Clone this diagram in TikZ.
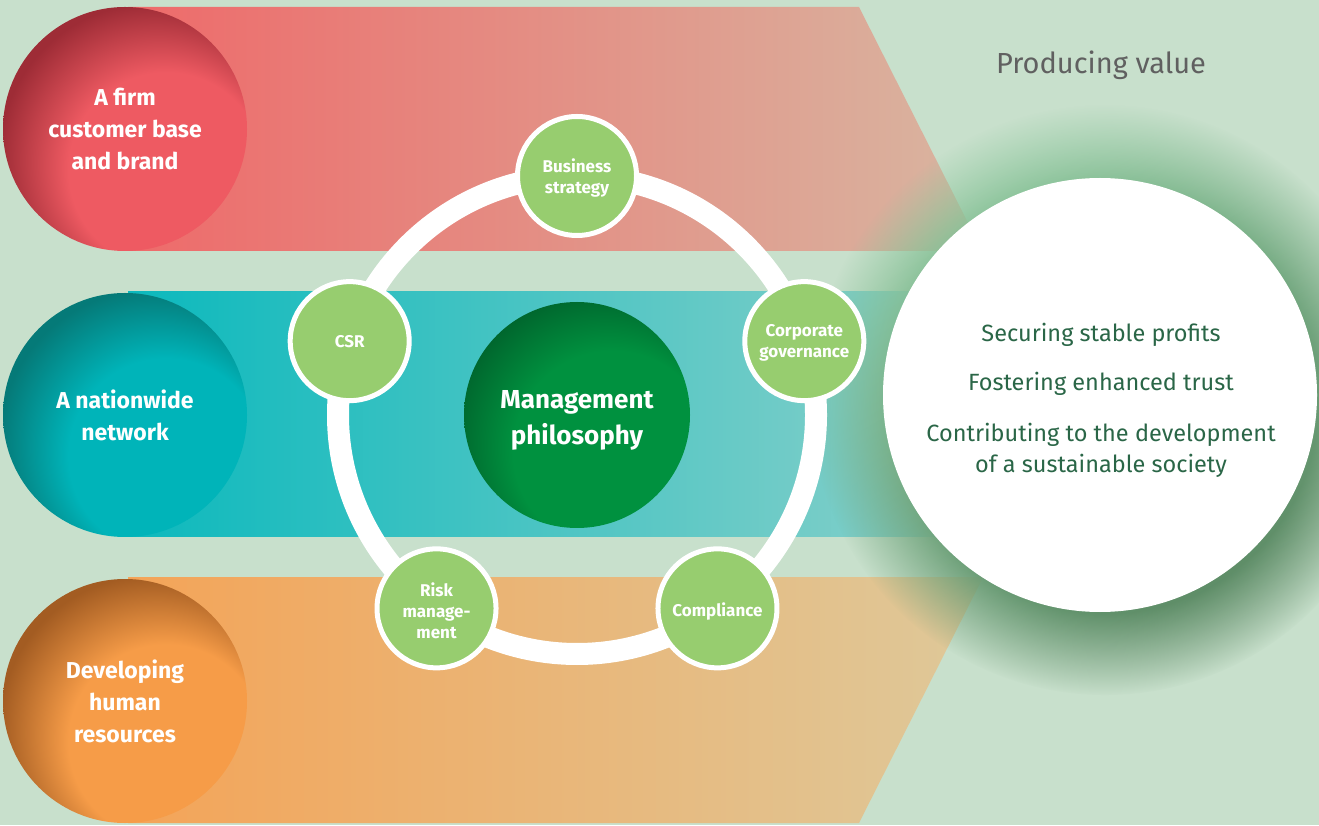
\documentclass[tikz,border=0pt]{standalone}
\usepackage{fontspec}
\setmainfont{Fira Sans}
\usetikzlibrary{fadings,calc}

\definecolor{bg}{HTML}{C8E0CC}
\definecolor{redL}{HTML}{EE5A62}
\definecolor{redD}{HTML}{9E2C36}
\definecolor{tealL}{HTML}{00B4B9}
\definecolor{tealD}{HTML}{057A78}
\definecolor{orL}{HTML}{F69C48}
\definecolor{orD}{HTML}{A35C22}
\definecolor{mgL}{HTML}{00913F}
\definecolor{mgD}{HTML}{00632C}
\definecolor{redBa}{HTML}{EE6A6A}
\definecolor{redBb}{HTML}{D6BDA6}
\definecolor{tealBa}{HTML}{0CB9BD}
\definecolor{tealBb}{HTML}{9AD3CB}
\definecolor{orBa}{HTML}{F4A458}
\definecolor{orBb}{HTML}{DCCCA0}
\definecolor{nodeG}{HTML}{97CD6F}
\definecolor{glowT}{HTML}{8ECA9F}
\definecolor{glowB}{HTML}{57845F}
\definecolor{txtG}{HTML}{2A6647}
\definecolor{txtGray}{HTML}{606060}

\pgfdeclareradialshading{redball}{\pgfpoint{14bp}{-14bp}}{color(0bp)=(redL); color(20bp)=(redL); color(31bp)=(redD); color(50bp)=(redD)}
\pgfdeclareradialshading{tealball}{\pgfpoint{14bp}{-14bp}}{color(0bp)=(tealL); color(20bp)=(tealL); color(31bp)=(tealD); color(50bp)=(tealD)}
\pgfdeclareradialshading{orball}{\pgfpoint{14bp}{-14bp}}{color(0bp)=(orL); color(20bp)=(orL); color(31bp)=(orD); color(50bp)=(orD)}
\pgfdeclareradialshading{mgball}{\pgfpoint{14bp}{-14bp}}{color(0bp)=(mgL); color(22bp)=(mgL); color(33bp)=(mgD); color(50bp)=(mgD)}
\pgfdeclareradialshading{glowmask}{\pgfpointorigin}{color(0bp)=(white); color(18bp)=(white); color(25bp)=(black); color(50bp)=(black)}
\pgfdeclarefading{glowfade}{\pgfuseshading{glowmask}}

\tikzset{
  ball/.style={circle, minimum size=244pt, inner sep=0pt, shade, text=white, align=center,
    font=\bfseries\fontsize{23}{32}\selectfont},
  pill/.style={circle, minimum size=119pt, inner sep=0pt, fill=nodeG, draw=white, line width=5pt,
    text=white, align=center, font=\bfseries\fontsize{17}{21}\selectfont},
  pilltext/.style={text=white, align=center, font=\bfseries\fontsize{17}{21}\selectfont},
  valtext/.style={text=txtG, align=center, font=\fontsize{23.5}{31}\selectfont},
}

\begin{document}
\begin{tikzpicture}[x=1pt,y=1pt]
\fill[bg] (0,0) rectangle (1319,825);
\useasboundingbox (0,0) rectangle (1319,825);

% bands in a chevron
\begin{scope}
  \clip (128,818) -- (859,818) -- (1065,410) -- (859,2) -- (128,2) -- cycle;
  \shade[left color=redBa, right color=redBb] (128,574) rectangle (1065,818);
  \shade[left color=tealBa, right color=tealBb] (128,288) rectangle (1065,533);
  \shade[left color=orBa, right color=orBb] (128,2) rectangle (1065,247);
\end{scope}

% glow and value circle
\shade[top color=glowT, bottom color=glowB, shading angle=30, path fading=glowfade] (1105,425) circle (295pt);
\node[circle, fill=white, minimum size=434pt, inner sep=0pt] (val) at (1100,430) {};

% left balls
\node[ball, shading=redball] (firm) at (125,696) {A firm\\customer base\\and brand};
\node[ball, shading=tealball] (net) at (125,410) {A nationwide\\network};
\node[ball, shading=orball] (hr) at (125,124) {Developing\\human\\resources};

% ring
\coordinate (c) at (577,410);
\draw[white, line width=22pt] (c) circle (239pt);

\node[pill] (bs) at ($(c)+(90:239pt)$) {};
\node[pill] (cg) at ($(c)+(18:239pt)$) {};
\node[pill] (co) at ($(c)+(-54:239pt)$) {};
\node[pill] (rm) at ($(c)+(-126:239pt)$) {};
\node[pill] (csr) at ($(c)+(162:239pt)$) {};
\node[pilltext] (bst) at ($(bs)+(0,-2)$) {Business\\strategy};
\node[pilltext] (cgt) at ($(cg)+(0,-2)$) {Corporate\\governance};
\node[pilltext] (cot) at ($(co)+(0,-3)$) {Compliance};
\node[pilltext] (rmt) at ($(rm)+(0,-2)$) {Risk\\manage-\\ment};
\node[pilltext] (csrt) at (csr) {CSR};

\node[circle, minimum size=226pt, inner sep=0pt, shade, shading=mgball] (mp) at (c) {};
\node[text=white, align=center, font=\bfseries\fontsize{26}{36}\selectfont] (mpt) at ($(mp)+(0,-5)$) {Management\\philosophy};

% texts on the right
\node[text=txtGray, font=\fontsize{29}{34}\selectfont] (pv) at (1101,760) {Producing value};
\node[valtext] (v1) at (1101,490) {Securing stable profits};
\node[valtext] (v2) at (1101,441) {Fostering enhanced trust};
\node[valtext] (v3) at (1101,375) {Contributing to the development\\of a sustainable society};
\end{tikzpicture}
\end{document}
